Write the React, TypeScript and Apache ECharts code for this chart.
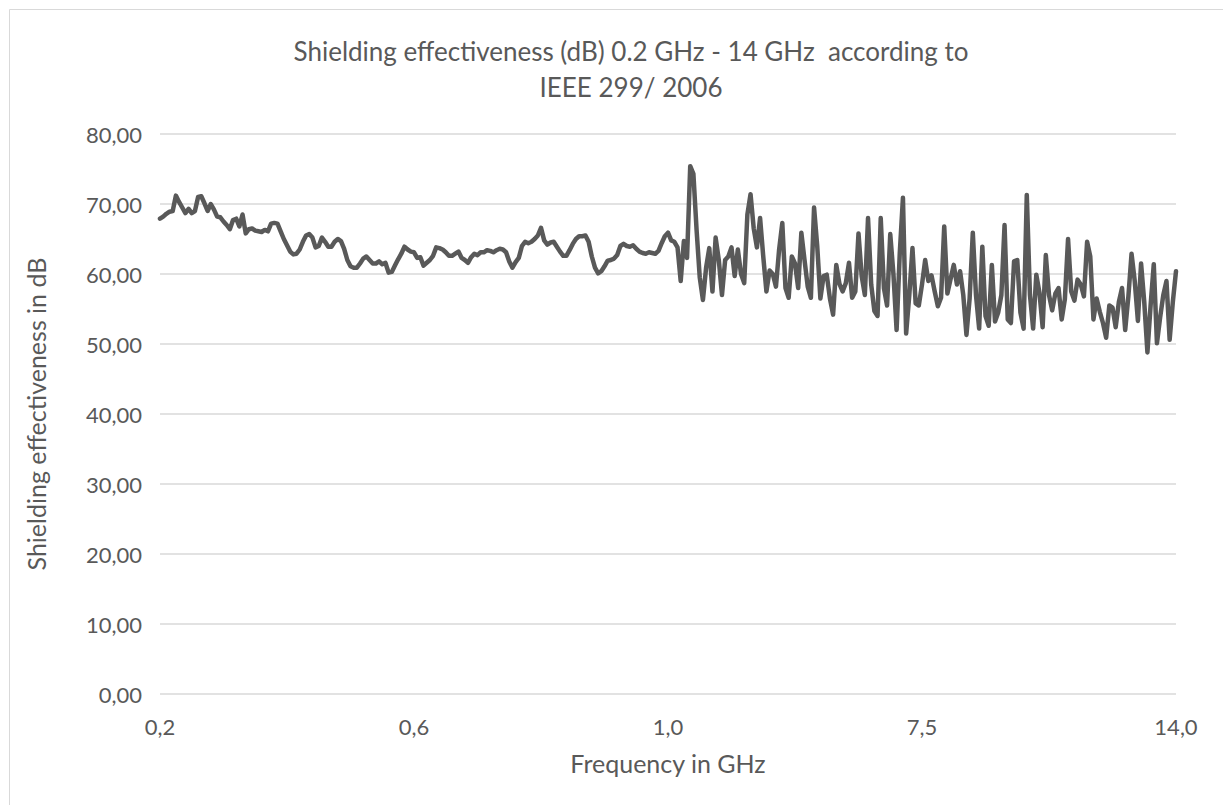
import React, { useEffect, useRef } from "react";
import * as echarts from "echarts";

// Shielding effectiveness (dB), 0.2 GHz – 1.0 GHz sweep (161 points)
const lowBandSE = [
  67.9, 68.2, 68.6, 68.9, 69.0, 71.2, 70.3, 69.5, 68.7, 69.3,
  68.7, 69.0, 71.0, 71.1, 70.1, 69.0, 70.0, 69.2, 68.2, 68.1,
  67.5, 67.0, 66.4, 67.7, 67.9, 66.8, 68.5, 65.8, 66.4, 66.5,
  66.2, 66.1, 66.0, 66.3, 66.1, 67.2, 67.3, 67.2, 66.1, 65.0,
  64.1, 63.2, 62.8, 62.9, 63.5, 64.6, 65.5, 65.7, 65.2, 63.8,
  64.0, 65.2, 64.6, 63.9, 63.9, 64.6, 65.0, 64.7, 63.6, 62.0,
  61.1, 60.9, 60.9, 61.5, 62.2, 62.5, 62.0, 61.5, 61.5, 61.8,
  61.4, 61.6, 60.2, 60.3, 61.2, 62.1, 62.9, 63.9, 63.5, 63.2,
  63.1, 62.3, 62.4, 61.2, 61.6, 62.0, 62.6, 63.8, 63.7, 63.5,
  63.1, 62.6, 62.6, 62.9, 63.2, 62.3, 62.0, 61.6, 62.4, 62.9,
  62.7, 63.1, 63.1, 63.4, 63.3, 63.1, 63.4, 63.6, 63.5, 63.1,
  61.8, 60.9, 61.7, 62.3, 64.0, 64.6, 64.4, 64.6, 65.0, 65.5,
  66.6, 64.8, 64.2, 64.5, 64.6, 63.9, 63.2, 62.6, 62.6, 63.4,
  64.3, 65.0, 65.4, 65.4, 65.5, 64.6, 62.5, 60.9, 60.1, 60.4,
  61.1, 61.9, 62.0, 62.2, 62.7, 64.0, 64.3, 64.0, 63.9, 64.1,
  63.6, 63.2, 63.0, 62.9, 63.1, 63.0, 62.9, 63.3, 64.4, 65.4,
  65.9,
];

// Shielding effectiveness (dB), above 1.0 GHz up to 14.0 GHz (160 points)
const highBandSE = [
  64.8, 64.6, 63.8, 59.0, 64.7, 62.3, 75.4, 74.3, 66.3, 59.5,
  56.3, 60.9, 63.7, 57.5, 65.2, 62.0, 57.0, 62.0, 62.5, 63.8,
  59.7, 63.5, 60.0, 58.7, 68.5, 71.4, 66.5, 63.8, 68.0, 62.5,
  57.5, 60.5, 60.0, 58.2, 63.5, 67.3, 58.0, 56.6, 62.5, 61.5,
  58.0, 65.9, 62.0, 58.2, 56.6, 69.5, 64.0, 56.5, 59.7, 59.9,
  56.5, 54.2, 61.3, 58.6, 57.5, 58.7, 61.6, 56.6, 57.5, 65.8,
  59.7, 57.0, 68.0, 58.5, 54.7, 54.0, 68.0, 58.0, 55.5, 65.7,
  60.0, 52.0, 63.0, 70.9, 51.5, 57.0, 63.7, 55.8, 55.5, 58.5,
  62.0, 59.0, 59.8, 57.5, 55.4, 56.6, 66.8, 57.2, 59.3, 61.3,
  58.5, 60.4, 57.0, 51.3, 56.5, 65.9, 57.0, 52.2, 63.9, 54.0,
  52.6, 61.3, 53.2, 54.5, 57.0, 67.0, 53.5, 53.0, 61.8, 62.0,
  54.5, 52.2, 71.3, 57.0, 52.2, 59.9, 57.3, 52.4, 62.7, 57.0,
  54.8, 57.2, 58.0, 53.5, 56.4, 65.0, 57.5, 56.2, 59.2, 58.5,
  56.8, 64.6, 62.5, 53.5, 56.5, 54.6, 53.0, 50.9, 55.5, 55.2,
  52.4, 56.0, 58.0, 52.0, 56.8, 62.9, 59.0, 53.3, 61.5, 56.0,
  48.8, 55.5, 61.4, 50.1, 53.8, 57.0, 59.0, 50.6, 56.0, 60.4,
];

// Sweep limits in GHz
const LOW_START = 0.2;
const LOW_STOP = 1.0;
const HIGH_STOP = 14.0;

const lowFreq = lowBandSE.map(
  (_, i) => LOW_START + ((LOW_STOP - LOW_START) * i) / (lowBandSE.length - 1)
);
const highFreq = highBandSE.map(
  (_, i) => LOW_STOP + ((HIGH_STOP - LOW_STOP) * (i + 1)) / highBandSE.length
);
const frequencies = [...lowFreq, ...highFreq].map((f) => f.toFixed(4));
const seValues = [...lowBandSE, ...highBandSE];

const TITLE = "Shielding effectiveness (dB) 0.2 GHz - 14 GHz  according to\nIEEE 299/ 2006";
const X_NAME = "Frequency in GHz";
const Y_NAME = "Shielding effectiveness in dB";

const FONT = "Lato";
const TEXT = "#595959";
const GRID = "#d9d9d9";

export default function App() {
  const ref = useRef<HTMLDivElement>(null);

  useEffect(() => {
    if (!ref.current) return;
    const chart = echarts.init(ref.current, null, { renderer: "svg" });
    chart.setOption({
      animation: false,
      backgroundColor: "#ffffff",
      title: {
        text: TITLE,
        left: 626,
        top: 28,
        textAlign: "center",
        textStyle: {
          fontFamily: FONT,
          fontSize: 26,
          fontWeight: "normal",
          color: TEXT,
          lineHeight: 36,
        },
      },
      grid: { left: 160, right: 47, top: 134, bottom: 111 },
      xAxis: {
        type: "category",
        data: frequencies,
        boundaryGap: false,
        axisLine: { show: false },
        axisTick: { show: false },
        axisLabel: {
          interval: 79,
          margin: 21,
          fontFamily: FONT,
          fontSize: 22,
          color: TEXT,
          formatter: (v: string) => Number(v).toFixed(1).replace(".", ","),
        },
        splitLine: { show: false },
        name: X_NAME,
        nameLocation: "middle",
        nameGap: 56,
        nameTextStyle: { fontFamily: FONT, fontSize: 25, color: TEXT },
      },
      yAxis: {
        type: "value",
        min: 0,
        max: 80,
        interval: 10,
        axisLine: { show: false },
        axisTick: { show: false },
        axisLabel: {
          margin: 18,
          fontFamily: FONT,
          fontSize: 22,
          color: TEXT,
          formatter: (v: number) => v.toFixed(2).replace(".", ","),
        },
        splitLine: { lineStyle: { color: GRID, width: 1.5 } },
        name: Y_NAME,
        nameLocation: "middle",
        nameGap: 112,
        nameRotate: 90,
        nameTextStyle: { fontFamily: FONT, fontSize: 25, color: TEXT },
      },
      series: [
        {
          type: "line",
          data: seValues,
          showSymbol: false,
          symbol: "none",
          lineStyle: { color: TEXT, width: 4.5, cap: "round", join: "round" },
          itemStyle: { color: TEXT },
        },
      ],
      graphic: [
        {
          type: "rect",
          silent: true,
          shape: { x: 9.5, y: 9.5, width: 1260, height: 840 },
          style: { fill: "none", stroke: GRID, lineWidth: 1 },
        },
      ],
    });
    return () => chart.dispose();
  }, []);

  return (
    <div
      ref={ref}
      style={{ position: "fixed", left: 0, top: 0, width: 1223, height: 805 }}
    />
  );
}
